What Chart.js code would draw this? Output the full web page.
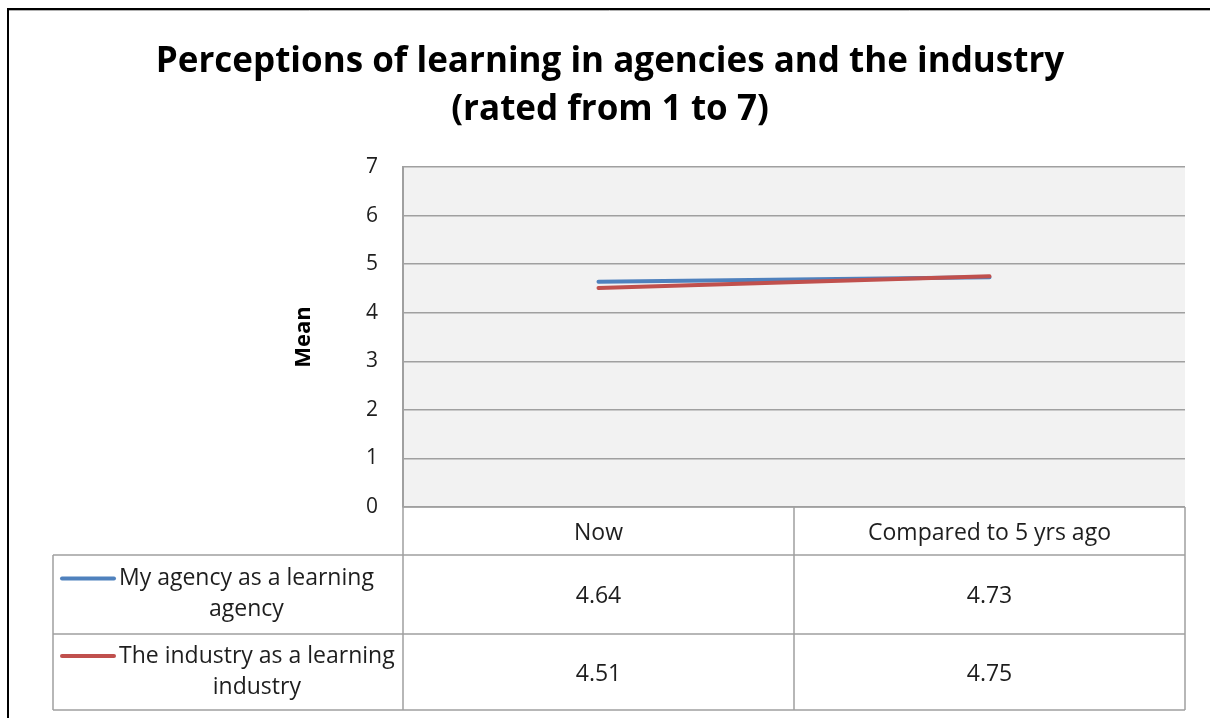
<!DOCTYPE html>
<html>
<head>
<meta charset="utf-8">
<script src="https://cdn.jsdelivr.net/npm/chart.js@4.4.1/dist/chart.umd.min.js"></script>
<style>
  body { margin: 0; background: #fff; }
  #grafico { display: block; }
</style>
</head>
<body>
<canvas id="grafico" width="1210" height="718"></canvas>
<script>
const categorias = ["Now", "Compared to 5 yrs ago"];
const serieAgencia = [4.64, 4.73];
const serieIndustria = [4.51, 4.75];
const nombresSeries = [["My agency as a learning", "agency"], ["The industry as a learning", "industry"]];
const ticksY = [0, 1, 2, 3, 4, 5, 6, 7];

const AZUL = "#4f81bd";
const ROJO = "#c0504d";
const GRIS = "#a0a0a0";
const FUENTE = "'Open Sans', sans-serif";

// fondo gris del area de trazado y el marco negro de la imagen
const fondoPlugin = {
    id: "fondo",
    beforeDraw: (chart) => {
        const { ctx, chartArea } = chart;
        ctx.save();
        ctx.fillStyle = "#f2f2f2";
        ctx.fillRect(chartArea.left, chartArea.top, chartArea.right - chartArea.left, chartArea.bottom - chartArea.top);
        ctx.strokeStyle = "#000";
        ctx.lineWidth = 2;
        ctx.beginPath();
        ctx.moveTo(8, 718);
        ctx.lineTo(8, 9);
        ctx.lineTo(1210, 9);
        ctx.stroke();
        ctx.strokeStyle = "#b0b0b0";
        ctx.lineWidth = 1;
        ctx.beginPath();
        ctx.moveTo(9, 10.5);
        ctx.lineTo(1210, 10.5);
        ctx.stroke();
        ctx.restore();
    },
};

// tabla de datos bajo el grafico
const tablaPlugin = {
    id: "tabla",
    afterDraw: (chart) => {
        const { ctx } = chart;
        const x = chart.scales.x;
        const y = chart.scales.y;
        const izq = 53;
        const top = y.bottom;
        const filas = [top, top + 48, top + 127, top + 203];
        const medio = (x.getPixelForValue(0) + x.getPixelForValue(1)) / 2;
        const cols = [x.left, medio, x.right];

        ctx.save();
        ctx.strokeStyle = GRIS;
        ctx.lineWidth = 1.5;
        ctx.beginPath();
        ctx.moveTo(x.left, filas[0]);
        ctx.lineTo(x.right, filas[0]);
        for (let i = 1; i < filas.length; i++) {
            ctx.moveTo(izq, filas[i]);
            ctx.lineTo(x.right, filas[i]);
        }
        cols.forEach((cx) => {
            ctx.moveTo(cx, filas[0]);
            ctx.lineTo(cx, filas[3]);
        });
        ctx.moveTo(izq, filas[1]);
        ctx.lineTo(izq, filas[3]);
        ctx.stroke();

        ctx.fillStyle = "#1e1e1e";
        ctx.font = `23px ${FUENTE}`;
        ctx.textAlign = "center";
        ctx.textBaseline = "middle";
        categorias.forEach((cat, i) => {
            ctx.fillText(cat, x.getPixelForValue(i), (filas[0] + filas[1]) / 2 + 2);
        });

        chart.data.datasets.forEach((ds, r) => {
            const y0 = filas[r + 1];
            const y1 = filas[r + 2];
            const cy = (y0 + y1) / 2;
            ds.data.forEach((v, i) => {
                ctx.fillText(v.toFixed(2), x.getPixelForValue(i), cy + 2);
            });
            const [l1, l2] = nombresSeries[r];
            const ly1 = cy - 16;
            const ly2 = cy + 15;
            ctx.strokeStyle = ds.borderColor;
            ctx.lineWidth = 4;
            ctx.lineCap = "round";
            ctx.beginPath();
            ctx.moveTo(62, ly1);
            ctx.lineTo(114, ly1);
            ctx.stroke();
            const w1 = ctx.measureText(l1).width;
            ctx.textAlign = "left";
            ctx.fillText(l1, 119, ly1);
            ctx.textAlign = "center";
            ctx.fillText(l2, 119 + w1 / 2, ly2);
        });
        ctx.restore();
    },
};

const ctx = document.querySelector("#grafico").getContext("2d");
new Chart(ctx, {
    type: "line",
    data: {
        labels: categorias,
        datasets: [
            {
                label: nombresSeries[0].join(" "),
                data: serieAgencia,
                borderColor: AZUL,
                borderWidth: 4,
                pointRadius: 0,
                borderCapStyle: "round",
                order: 1,
            },
            {
                label: nombresSeries[1].join(" "),
                data: serieIndustria,
                borderColor: ROJO,
                borderWidth: 4,
                pointRadius: 0,
                borderCapStyle: "round",
                order: 0,
            },
        ],
    },
    options: {
        responsive: false,
        animation: false,
        layout: { padding: { top: 10, left: 35, right: 25, bottom: 211 } },
        plugins: {
            legend: { display: false },
            tooltip: { enabled: false },
            title: {
                display: true,
                text: ["Perceptions of learning in agencies and the industry", "(rated from 1 to 7)"],
                color: "#000",
                font: { family: FUENTE, size: 35, weight: "bold", lineHeight: 48 / 35 },
                padding: { top: 28, bottom: 33 },
            },
        },
        scales: {
            x: {
                display: false,
                offset: true,
            },
            y: {
                min: 0,
                max: 7,
                afterBuildTicks: (scale) => {
                    scale.ticks = ticksY.map((v) => ({ value: v }));
                },
                afterFit: (scale) => {
                    scale.width = 368;
                },
                ticks: {
                    padding: 25,
                    color: "#1e1e1e",
                    font: { family: FUENTE, size: 21 },
                },
                grid: { color: GRIS, lineWidth: 1.5, drawTicks: false },
                border: { color: GRIS, width: 2 },
                title: {
                    display: true,
                    text: "Mean",
                    color: "#000",
                    font: { family: FUENTE, size: 22, weight: "bold" },
                    padding: { top: 256 },
                },
            },
        },
    },
    plugins: [fondoPlugin, tablaPlugin],
});
</script>
</body>
</html>
